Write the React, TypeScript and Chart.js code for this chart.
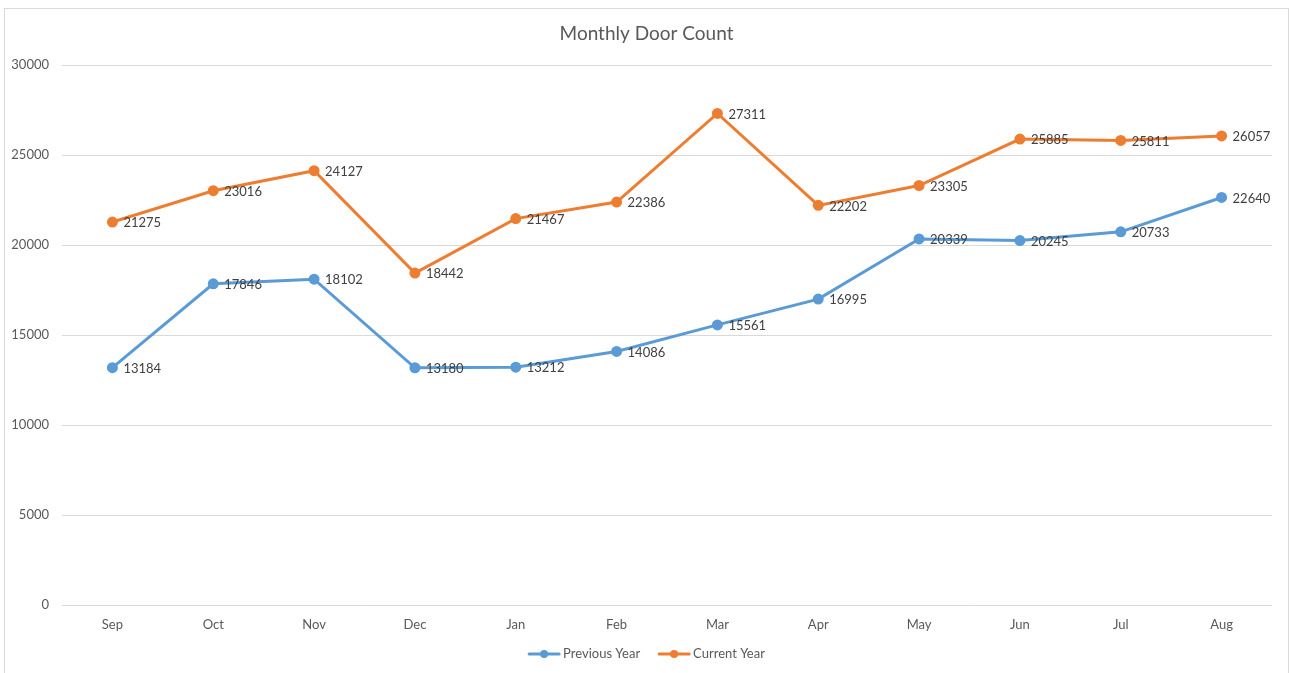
import React, { useEffect, useRef } from "react";
import { Chart, registerables } from "chart.js";

Chart.register(...registerables);

const months = ["Sep", "Oct", "Nov", "Dec", "Jan", "Feb", "Mar", "Apr", "May", "Jun", "Jul", "Aug"];
const previousYear = [13184, 17846, 18102, 13180, 13212, 14086, 15561, 16995, 20339, 20245, 20733, 22640];
const currentYear = [21275, 23016, 24127, 18442, 21467, 22386, 27311, 22202, 23305, 25885, 25811, 26057];
const seriesNames = ["Previous Year", "Current Year"];
const seriesColors = ["#5B9BD5", "#ED7D31"];
const chartTitle = "Monthly Door Count";
const yTicks = { min: 0, max: 30000, step: 5000 };

const FONT = "Lato, 'Open Sans', sans-serif";

const overlayPlugin = {
  id: "overlay",
  afterDatasetsDraw(chart: any) {
    const ctx = chart.ctx;
    ctx.save();
    // data labels
    ctx.font = `13px ${FONT}`;
    ctx.fillStyle = "#404040";
    ctx.textAlign = "left";
    ctx.textBaseline = "middle";
    chart.data.datasets.forEach((ds: any, i: number) => {
      const meta = chart.getDatasetMeta(i);
      meta.data.forEach((pt: any, j: number) => {
        ctx.fillText(String(ds.data[j]), pt.x + 11, pt.y + 1);
      });
    });
    // title
    ctx.font = `19px ${FONT}`;
    ctx.fillStyle = "#595959";
    ctx.textAlign = "center";
    ctx.fillText(chartTitle, chart.width / 2, 25);
    // legend
    ctx.font = `13px ${FONT}`;
    const ly = 645;
    const items = seriesNames.map((n, i) => ({ n, c: seriesColors[i], w: ctx.measureText(n).width }));
    const markerW = 32;
    const gap = 3;
    const between = 18;
    const total = items.reduce((s, it) => s + markerW + gap + it.w, 0) + between * (items.length - 1);
    let x = chart.width / 2 - total / 2;
    items.forEach((it) => {
      ctx.strokeStyle = it.c;
      ctx.lineWidth = 3;
      ctx.lineCap = "round";
      ctx.beginPath();
      ctx.moveTo(x + 1, ly);
      ctx.lineTo(x + markerW - 1, ly);
      ctx.stroke();
      ctx.fillStyle = it.c;
      ctx.beginPath();
      ctx.arc(x + markerW / 2, ly, 4, 0, Math.PI * 2);
      ctx.fill();
      ctx.fillStyle = "#595959";
      ctx.textAlign = "left";
      ctx.fillText(it.n, x + markerW + gap, ly);
      x += markerW + gap + it.w + between;
    });
    ctx.restore();
  },
};

export default function App() {
  const ref = useRef<HTMLCanvasElement | null>(null);
  useEffect(() => {
    if (!ref.current) return;
    const chart = new Chart(ref.current, {
      type: "line",
      data: {
        labels: months,
        datasets: [
          {
            label: seriesNames[0],
            data: previousYear,
            borderColor: seriesColors[0],
            backgroundColor: seriesColors[0],
            borderWidth: 3,
            pointRadius: 4,
            pointHoverRadius: 4,
            tension: 0,
          },
          {
            label: seriesNames[1],
            data: currentYear,
            borderColor: seriesColors[1],
            backgroundColor: seriesColors[1],
            borderWidth: 3,
            pointRadius: 4,
            pointHoverRadius: 4,
            tension: 0,
          },
        ],
      },
      options: {
        animation: false,
        responsive: false,
        maintainAspectRatio: false,
        layout: { padding: { top: 56, right: 16, bottom: 28, left: 0 } },
        plugins: {
          legend: { display: false },
          title: { display: false },
          tooltip: { enabled: false },
        },
        scales: {
          x: {
            offset: true,
            grid: { display: false, drawTicks: false },
            border: { display: false },
            ticks: { color: "#595959", font: { family: FONT, size: 13 }, padding: 12 },
            afterFit: (s: any) => {
              s.height = 40;
            },
          },
          y: {
            min: yTicks.min,
            max: yTicks.max,
            ticks: {
              stepSize: yTicks.step,
              color: "#595959",
              font: { family: FONT, size: 13 },
              padding: 13,
              callback: (v: any) => String(v),
            },
            grid: { color: "#d9d9d9", lineWidth: 1, drawTicks: false },
            border: { display: false },
            afterFit: (s: any) => {
              s.width = 57;
            },
          },
        },
      },
      plugins: [overlayPlugin],
    });
    return () => chart.destroy();
  }, []);
  return (
    <div
      style={{
        position: "fixed",
        left: 4,
        top: 8,
        width: 1283,
        height: 680,
        border: "1px solid #d9d9d9",
        background: "#fff",
      }}
    >
      <canvas ref={ref} width={1283} height={664} style={{ display: "block" }} />
    </div>
  );
}
